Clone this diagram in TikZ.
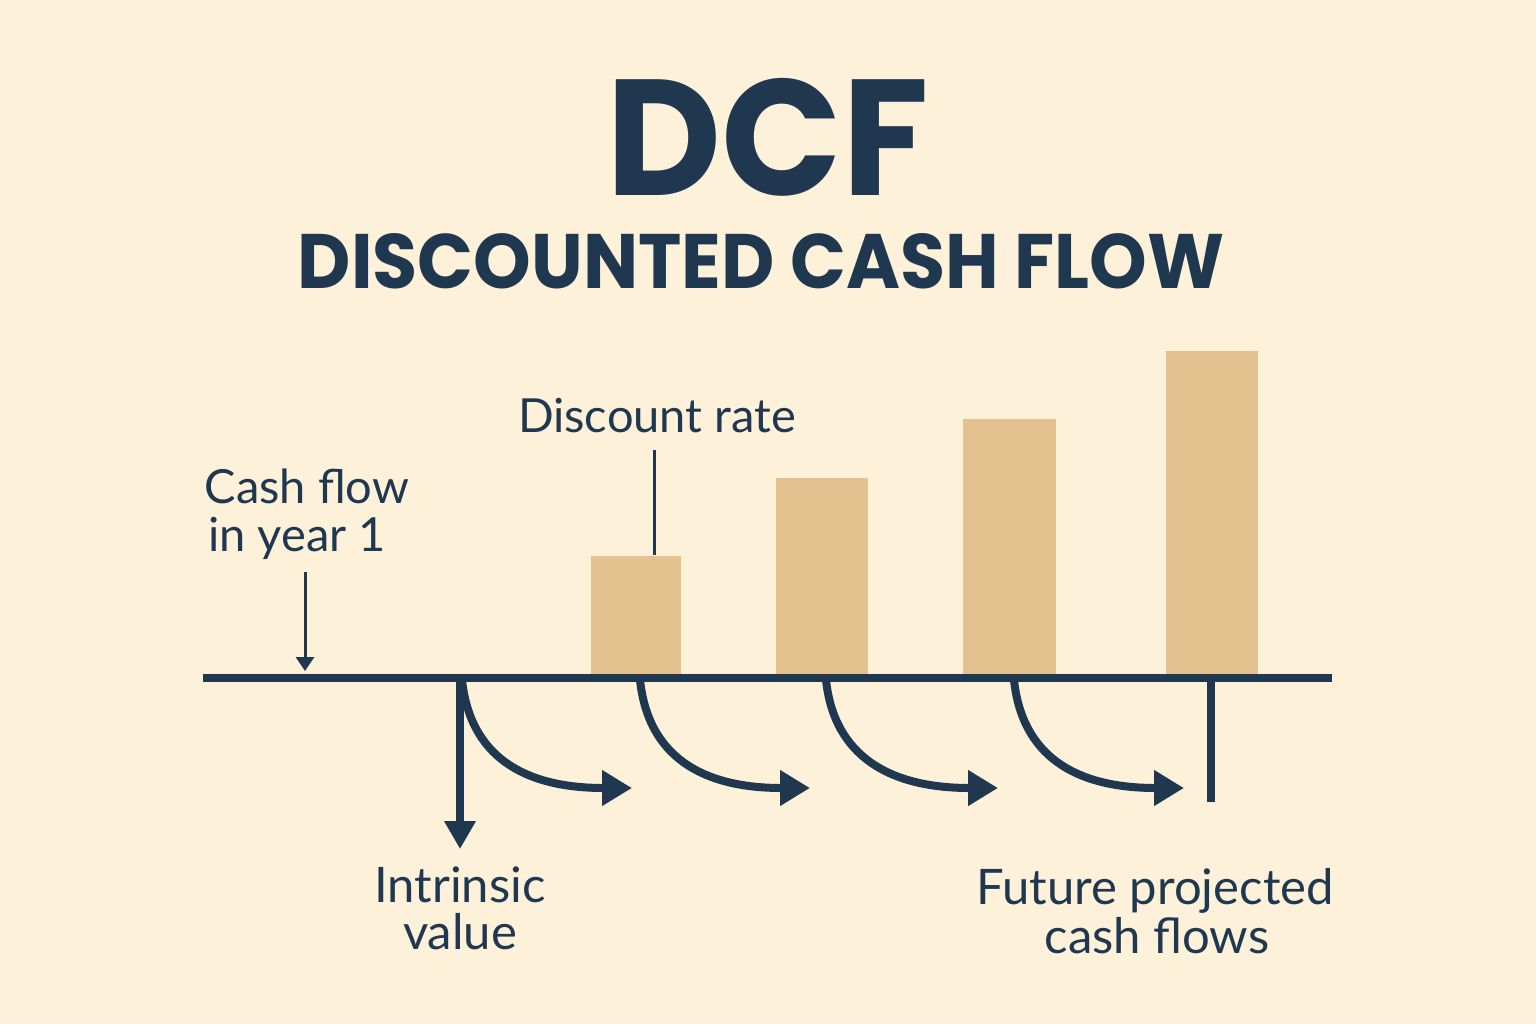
\documentclass[tikz,border=0pt]{standalone}
\usepackage{fontspec}
\usetikzlibrary{arrows.meta,calc}
\newfontfamily\titlefont{Poppins}
\newfontfamily\labelfont{Lato}
\definecolor{bgc}{HTML}{FDF1DA}
\definecolor{barc}{HTML}{E3C290}
\definecolor{ink}{HTML}{1F3850}
\tikzset{
  bar/.style={fill=barc, draw=none},
  thickline/.style={draw=ink, line width=4pt},
  thinarrow/.style={draw=ink, line width=1.5pt, -{Triangle[length=7pt,width=9pt]}},
  thinline/.style={draw=ink, line width=1.5pt},
  bigarrow/.style={draw=ink, line width=4pt, -{Triangle[length=14pt,width=15pt]}},
  curvarrow/.style={draw=ink, line width=4pt, -{Triangle[length=15pt,width=17pt]}},
  lbl/.style={text=ink, font=\labelfont\fontsize{23.5}{24}\selectfont, align=center, inner sep=0pt},
  lblb/.style={text=ink, font=\labelfont\fontsize{24.5}{25}\selectfont, align=center, inner sep=0pt},
  ttl/.style={text=ink, anchor=base, inner sep=0pt, text depth=0pt},
}
\begin{document}
\begin{tikzpicture}[x=0.5pt,y=-0.5pt]
\fill[bgc] (0,0) rectangle (1536,1024);
\useasboundingbox (0,0) rectangle (1536,1024);
% titles
\node[ttl, font=\titlefont\bfseries\fontsize{82.5}{86}\selectfont, xscale=0.96] (dcf) at (768,195) {DCF};
\node[ttl, font=\titlefont\bfseries\fontsize{38.6}{42}\selectfont, xscale=0.95] (sub) at (761,288) {DISCOUNTED CASH FLOW};
% bars
\node[bar, minimum width=45pt, minimum height=59pt, anchor=south west, inner sep=0pt] (b1) at (591,674) {};
\node[bar, minimum width=46pt, minimum height=98pt, anchor=south west, inner sep=0pt] (b2) at (776,674) {};
\node[bar, minimum width=46.5pt, minimum height=127.5pt, anchor=south west, inner sep=0pt] (b3) at (963,674) {};
\node[bar, minimum width=46pt, minimum height=161.5pt, anchor=south west, inner sep=0pt] (b4) at (1166,674) {};
% axis
\coordinate (axL) at (203,678);
\coordinate (axR) at (1332,678);
\draw[thickline] (axL) -- (axR);
% labels
\node[lbl, anchor=base] (cf1) at (307,503) {Cash flow};
\node[lbl, anchor=base] (cf2) at (297,551) {in year 1};
\node[lbl, anchor=base] (dr) at (657,432) {Discount rate};
\node[lblb, anchor=base] (iv1) at (460,902) {Intrinsic};
\node[lblb, anchor=base] (iv2) at (460,949) {value};
\node[lblb, anchor=base] (fp1) at (1155,904) {Future projected};
\node[lblb, anchor=base] (fp2) at (1157,953) {cash flows};
% cash flow arrow
\coordinate (cfs) at (305,572);
\coordinate (cfe) at (305,671);
\draw[thinarrow] (cfs) -- (cfe);
% discount rate line
\coordinate (drs) at (654,450);
\draw[thinline] (drs) -- (b1.north -| drs);
% intrinsic value arrow
\coordinate (ivs) at (460,676);
\coordinate (ive) at (460,849);
\draw[bigarrow] (ivs) -- (ive);
% curved arrows
\foreach \sx/\ex [count=\i] in {462/632, 640/810, 826/998, 1014/1184}{
  \coordinate (cs\i) at (\sx,680);
  \coordinate (ce\i) at (\ex,788);
  \draw[curvarrow] (cs\i) .. controls ($(cs\i)+(8,75)$) and ($(ce\i)+(-110,0)$) .. (ce\i);
}
% right line
\coordinate (rls) at (1211,676);
\coordinate (rle) at (1211,802);
\draw[thickline] (rls) -- (rle);
\end{tikzpicture}
\end{document}
